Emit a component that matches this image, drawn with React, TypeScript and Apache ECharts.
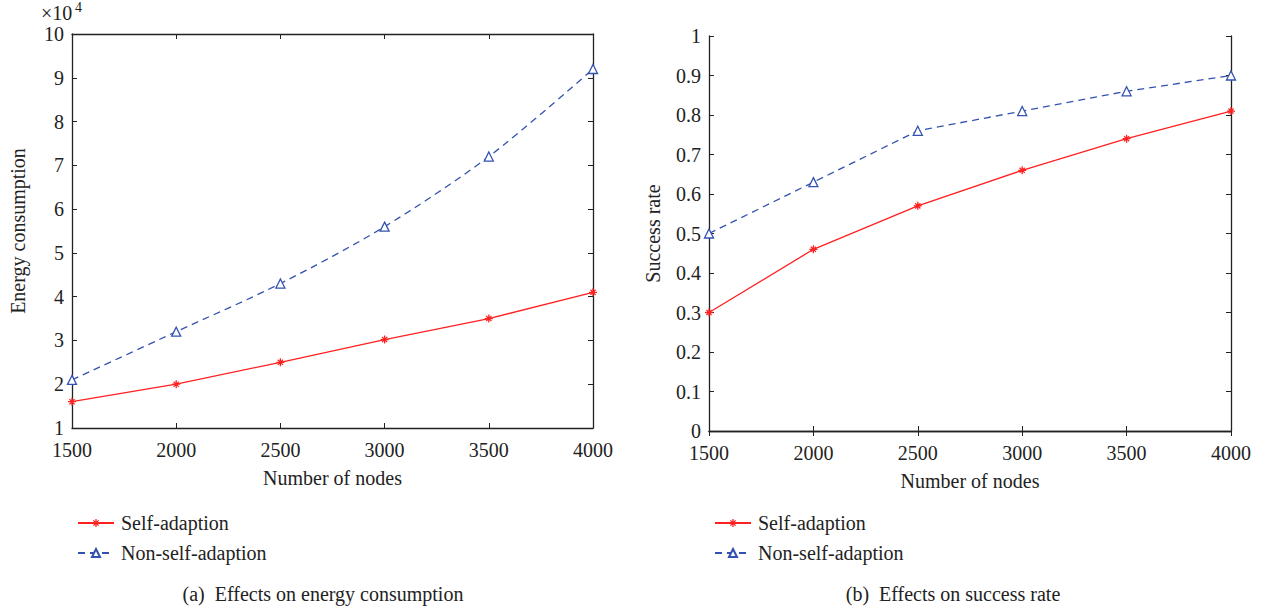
import React, { useEffect, useRef } from "react";
import * as echarts from "echarts";

const nodes = [1500, 2000, 2500, 3000, 3500, 4000];
const energySelf = [1.6, 2.0, 2.5, 3.02, 3.5, 4.1];
const energyNonSelf = [2.1, 3.2, 4.3, 5.6, 7.2, 9.2];
const successSelf = [0.3, 0.46, 0.57, 0.66, 0.74, 0.81];
const successNonSelf = [0.5, 0.63, 0.76, 0.81, 0.86, 0.9];
const seriesNames = ["Self-adaption", "Non-self-adaption"];

const RED = "#ff2020";
const BLUE = "#3352b0";
const AXIS = "#222";
const FONT = "Liberation Serif";
const FS = 20;
const ASTERISK =
  "path://M4.2,0H5.8V10H4.2Z M0,4.2H10V5.8H0Z M1.2,2.3L2.3,1.2L8.8,7.7L7.7,8.8Z M7.7,1.2L8.8,2.3L2.3,8.8L1.2,7.7Z";

const pair = (xs: number[], ys: number[]) => xs.map((x, i) => [x, ys[i]]);

export default function App() {
  const ref = useRef<HTMLDivElement>(null);
  useEffect(() => {
    document.body.style.margin = "0";
    const chart = echarts.init(ref.current!, null, { renderer: "svg" });
    const textStyle = { fontFamily: FONT, fontSize: FS, color: "#222" };
    const xAxisBase = (grid: number) => ({
      type: "value",
      gridIndex: grid,
      min: 1500,
      max: 4000,
      interval: 500,
      splitLine: { show: false },
      axisLine: { lineStyle: { color: AXIS, width: 1.3 } },
      axisTick: { inside: true, length: 5, lineStyle: { color: AXIS } },
    });
    const yAxisBase = (grid: number, min: number, max: number, interval: number) => ({
      type: "value",
      gridIndex: grid,
      min,
      max,
      interval,
      splitLine: { show: false },
      axisLine: { show: true, lineStyle: { color: AXIS, width: 1.3 } },
      axisTick: { show: true, inside: true, length: 5, lineStyle: { color: AXIS } },
    });
    const xLabel = { ...textStyle, margin: 12, formatter: (v: number) => String(v) };
    const option: any = {
      animation: false,
      textStyle: { fontFamily: FONT },
      grid: [
        { left: 72, width: 521, top: 34, height: 394 },
        { left: 709, width: 522, top: 36, height: 395 },
      ],
      xAxis: [
        {
          ...xAxisBase(0),
          position: "bottom",
          axisLabel: xLabel,
          name: "Number of nodes",
          nameLocation: "middle",
          nameGap: 40,
          nameTextStyle: textStyle,
        },
        { ...xAxisBase(0), position: "top", axisLabel: { show: false } },
        {
          ...xAxisBase(1),
          position: "bottom",
          axisLabel: xLabel,
          name: "Number of nodes",
          nameLocation: "middle",
          nameGap: 40,
          nameTextStyle: textStyle,
        },
        { ...xAxisBase(1), position: "top", axisLabel: { show: false } },
      ],
      yAxis: [
        {
          ...yAxisBase(0, 1, 10, 1),
          position: "left",
          axisLabel: { ...textStyle, margin: 8 },
          name: "Energy consumption",
          nameLocation: "middle",
          nameGap: 44,
          nameTextStyle: textStyle,
        },
        { ...yAxisBase(0, 1, 10, 1), position: "right", axisLabel: { show: false } },
        {
          ...yAxisBase(1, 0, 1, 0.1),
          position: "left",
          axisLabel: { ...textStyle, margin: 8 },
          name: "Success rate",
          nameLocation: "middle",
          nameGap: 46,
          nameTextStyle: textStyle,
        },
        { ...yAxisBase(1, 0, 1, 0.1), position: "right", axisLabel: { show: false } },
      ],
      legend: [
        {
          left: 72,
          top: 508,
          orient: "vertical",
          itemWidth: 36,
          itemHeight: 10,
          itemGap: 10,
          data: seriesNames,
          textStyle: { ...textStyle, padding: [0, 0, 0, 2] },
        },
        {
          left: 709,
          top: 508,
          orient: "vertical",
          itemWidth: 36,
          itemHeight: 10,
          itemGap: 10,
          data: seriesNames,
          textStyle: { ...textStyle, padding: [0, 0, 0, 2] },
        },
      ],
      title: [
        {
          text: "(a)  Effects on energy consumption",
          left: 318,
          top: 579,
          textAlign: "center",
          textStyle: { ...textStyle, fontWeight: "normal" },
        },
        {
          text: "(b)  Effects on success rate",
          left: 948,
          top: 579,
          textAlign: "center",
          textStyle: { ...textStyle, fontWeight: "normal" },
        },
      ],
      graphic: [
        {
          type: "text",
          left: 41,
          top: 3,
          style: { text: "×10", fontFamily: FONT, fontSize: 20, fill: "#222" },
        },
        {
          type: "text",
          left: 75,
          top: 0,
          style: { text: "4", fontFamily: FONT, fontSize: 14, fill: "#222" },
        },
      ],
      series: [
        {
          name: seriesNames[0],
          type: "line",
          xAxisIndex: 0,
          yAxisIndex: 0,
          data: pair(nodes, energySelf),
          symbol: ASTERISK,
          symbolSize: 8,
          itemStyle: { color: RED },
          lineStyle: { color: RED, width: 1.3 },
        },
        {
          name: seriesNames[1],
          type: "line",
          xAxisIndex: 0,
          yAxisIndex: 0,
          data: pair(nodes, energyNonSelf),
          smooth: 0.3,
          symbol: "triangle",
          symbolSize: 9,
          itemStyle: { color: "#fff", borderColor: BLUE, borderWidth: 1.3 },
          lineStyle: { color: BLUE, width: 1.3, type: [7, 5] },
        },
        {
          name: seriesNames[0],
          type: "line",
          xAxisIndex: 2,
          yAxisIndex: 2,
          data: pair(nodes, successSelf),
          symbol: ASTERISK,
          symbolSize: 8,
          itemStyle: { color: RED },
          lineStyle: { color: RED, width: 1.3 },
        },
        {
          name: seriesNames[1],
          type: "line",
          xAxisIndex: 2,
          yAxisIndex: 2,
          data: pair(nodes, successNonSelf),
          symbol: "triangle",
          symbolSize: 9,
          itemStyle: { color: "#fff", borderColor: BLUE, borderWidth: 1.3 },
          lineStyle: { color: BLUE, width: 1.3, type: [7, 5] },
        },
      ],
    };
    chart.setOption(option);
    return () => chart.dispose();
  }, []);
  return <div ref={ref} style={{ width: 1262, height: 609 }} />;
}
